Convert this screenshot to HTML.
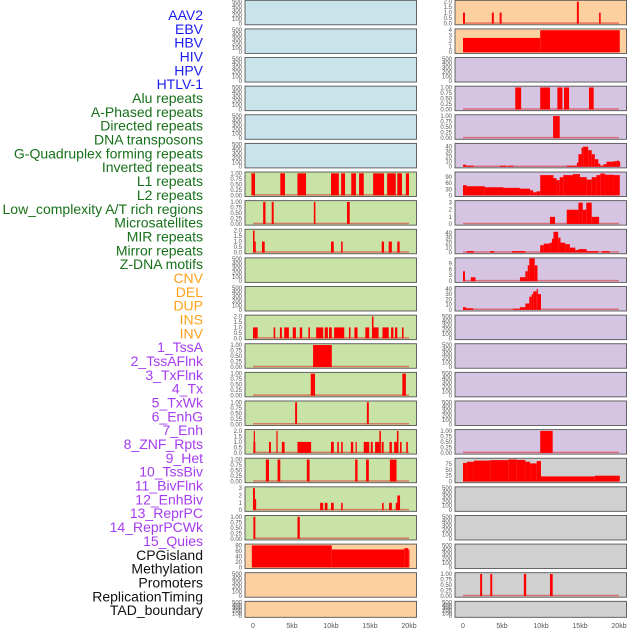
<!DOCTYPE html>
<html><head><meta charset="utf-8"><style>
html,body{margin:0;padding:0;background:#fff;}
svg{display:block;font-family:"Liberation Sans",sans-serif;}
</style></head><body>
<svg id="chart" width="630" height="630" viewBox="0 0 630 630" xmlns="http://www.w3.org/2000/svg">
<g id="labels"></g>
<g id="panels"></g>
<g id="xaxes"></g>
</svg>
<script>
const labelNames = ["AAV2","EBV","HBV","HIV","HPV","HTLV-1","Alu repeats","A-Phased repeats","Directed repeats","DNA transposons","G-Quadruplex forming repeats","Inverted repeats","L1 repeats","L2 repeats","Low_complexity A/T rich regions","Microsatellites","MIR repeats","Mirror repeats","Z-DNA motifs","CNV","DEL","DUP","INS","INV","1_TssA","2_TssAFlnk","3_TxFlnk","4_Tx","5_TxWk","6_EnhG","7_Enh","8_ZNF_Rpts","9_Het","10_TssBiv","11_BivFlnk","12_EnhBiv","13_ReprPC","14_ReprPCWk","15_Quies","CPGisland","Methylation","Promoters","ReplicationTiming","TAD_boundary"];
const labelGroups = [0,0,0,0,0,0,1,1,1,1,1,1,1,1,1,1,1,1,1,2,2,2,2,2,3,3,3,3,3,3,3,3,3,3,3,3,3,3,3,4,4,4,4,4];
const groupColors = ["#1c1cf0","#17701a","#ffa21a","#a63cf0","#111111"];

const xTickValues = [0,5,10,15,20];
const xTickLabels = ["0","5kb","10kb","15kb","20kb"];

const leftBg = ["b","b","b","b","b","b","g","g","g","g","g","g","g","g","g","g","g","g","g","o","o","o"];
const rightBg = ["o","o","p","p","p","p","p","p","p","p","p","p","p","p","p","p","g2","g2","g2","g2","g2","g2"];

const T500 = [0,100,200,300,400,500];
const T1 = [0,0.25,0.5,0.75,1];
const T2 = [0,0.5,1,1.5,2];

// left column: ticks, ymax, segments [startKb,endKb,value]
const leftTicks = [T500,T500,T500,T500,T500,T500,T1,T1,T2,T500,T500,T2,T1,T1,T1,T2,T1,[0,1,2,3],T1,[0,20,40,60,80],T500,T500];
const leftMax = [500,500,500,500,500,500,1,1,2,500,500,2,1,1,1,2,1,3,1,80,500,500];
const leftSegs = [
 [],[],[],[],[],[],
 [[-0.2,0.26,1],[3.5,4.1,1],[5.7,6.8,1],[10,11,1],[11.3,11.8,1],[12.6,13.2,1],[13.6,14.2,1],[15.4,16.8,1],[17.2,18.3,1],[18.5,19.1,1],[19.6,20,1]],
 [[1.3,1.6,1],[2.4,2.65,1],[7.8,8.0,1],[12.05,12.4,1]],
 [[0,0.2,2],[0.2,0.3,1],[1.15,1.5,1],[10,10.35,1],[11.3,11.5,1],[16.5,16.8,1],[17.4,17.8,1],[18.5,18.8,1]],
 [],[],
 [[0,0.6,1],[2.65,2.85,1],[3.45,3.7,1],[4,4.6,1],[5.1,5.5,1],[6,6.3,1],[7.1,7.3,1],[8.1,9.0,1],[9.2,9.6,1],[9.75,10.1,1],[10.4,11.7,1],[12.3,12.5,1],[13.0,13.4,1],[14.4,14.9,1],[15.25,15.45,2],[15.45,16.1,1],[16.6,17.4,1],[17.7,18.0,1],[18.2,18.5,1],[19.1,19.3,1]],
 [[7.7,10.1,1]],
 [[7.4,7.95,1],[19.15,19.6,1]],
 [[5.4,5.65,1],[14.6,14.85,1]],
 [[0.05,0.3,1],[0.1,0.2,2],[2.05,2.3,1],[3.0,3.15,2],[3.7,4.05,1],[5.7,7.45,1],[10.0,10.35,1],[10.8,11.0,1],[11.3,11.5,1],[12.55,12.85,1],[13.15,13.3,1],[14.2,14.9,1],[15.1,15.35,1],[15.65,16.2,1],[16.2,16.4,2],[16.5,16.75,1],[17.5,17.8,1],[18.1,18.5,1],[18.45,18.65,2],[18.85,19.05,1],[19.65,19.85,1]],
 [[1.65,2.05,1],[3.15,3.5,1],[6.9,7.25,1],[13.1,13.4,1],[14.5,14.85,1],[17.55,18.4,1]],
 [[0,0.25,3],[0.25,0.35,1.5],[8.6,9.0,1],[9.2,9.55,1],[10,10.35,1],[11.3,11.5,1],[16.55,16.75,1],[17.45,17.8,1],[18.3,18.55,1],[18.5,18.85,2]],
 [[0.05,0.3,1],[5.7,6.0,1]],
 [[-0.15,10.1,80],[10.1,19.4,65],[19.4,19.9,70],[19.9,20,65]],
 [],[]
];

const rightTicks = [T2,[0,1,2,3,4],T500,T1,T1,[0,10,20,30,40],[0,30,60,90],[0,1,2,3],[0,10,20,30,40],[0,3,6,9],[0,10,20,30,40],T500,T500,T500,T500,T1,[0,25,50,75],T500,T500,T500,T1,T500];
const rightMax = [2,4,500,1,1,44,109,3.1,44.5,11.1,42,500,500,500,500,1,94.6,500,500,500,1,500];
const rightSegs = [
 [[0,0.25,1],[3.7,3.95,1],[4.7,4.95,1],[14.6,14.85,2],[17.45,17.65,1]],
 [[0,9.9,2.6],[9.9,20.1,4]],
 [],
 [[6.7,7.45,1],[9.9,11.15,1],[12.1,12.75,1],[12.95,13.6,1],[16.15,16.75,1]],
 [[11.55,12.4,1]],
 [[0,0.38,4],[0.38,1.4,2],[4.75,5.6,2],[5.8,6.45,2],[13.3,14.6,2],[14.6,14.8,8],[14.8,15.2,25],[15.2,15.4,38],[15.4,16.05,40],[16.05,16.5,33],[16.5,16.9,25],[16.9,17.35,15],[17.35,17.6,6],[17.6,18.0,2],[18.0,18.4,5],[18.4,19.3,10],[19.3,19.7,11],[19.7,20.0,12],[20.0,20.1,10]],
 [[0,0.47,50],[0.47,2.8,45],[2.8,5.2,40],[5.2,7.3,37],[7.3,8.6,33],[8.6,9.0,25],[9.0,9.45,15],[9.45,9.9,20],[9.9,11.6,100],[11.6,12.0,85],[12.0,12.4,75],[12.4,12.85,90],[12.85,14.1,100],[14.1,15.0,105],[15.0,15.85,90],[15.85,16.5,78],[16.5,17.1,90],[17.1,17.6,100],[17.6,18.2,108],[18.2,19.3,102],[19.3,20.1,100]],
 [[11.15,11.8,1],[13.3,14.8,2],[14.8,15.35,3],[15.35,15.8,2],[15.8,16.5,3],[16.5,17.45,1]],
 [[0.5,1.4,3],[3.5,4.0,3],[6.3,8.0,3],[9.9,10.35,15],[10.35,11.1,18],[11.1,11.4,20],[11.4,11.6,28],[11.6,12.2,42],[12.2,12.5,30],[12.5,13.1,20],[13.1,13.7,17],[13.7,14.4,10],[14.4,14.8,5],[14.8,15.85,7],[15.85,17.35,3],[17.8,18.8,3]],
 [[0,0.25,5],[1.0,1.6,2],[7.3,8.0,2],[8.0,8.3,5],[8.3,8.5,8],[8.5,9.2,12],[9.2,9.55,8]],
 [[0,0.4,5],[0.4,1.3,3],[6.4,7.3,2],[7.3,8.0,5],[8.0,8.5,12],[8.5,8.8,25],[8.8,9.0,30],[9.0,9.45,35],[9.45,9.6,40],[9.6,10.0,30]],
 [],[],[],[],
 [[9.9,11.5,1]],
 [[0,0.5,80],[0.5,1.4,85],[1.4,3.5,90],[3.5,5.8,92],[5.8,6.9,95],[6.9,8.0,93],[8.0,8.6,85],[8.6,9.45,78],[9.45,10.0,88],[10.0,16.9,22],[16.9,20.1,25]],
 [],[],[],
 [[2.2,2.45,1],[3.5,3.75,1],[7.8,8.1,1],[11.15,11.5,1]],
 []
];

const NS = "http://www.w3.org/2000/svg";
const bgColors = {b:"#c9e3ea",g:"#c9e2a5",o:"#ffd09f",p:"#d5c5e2",g2:"#d0d0d0"};
function mk(tag, attrs, parent){const e=document.createElementNS(NS,tag);for(const k in attrs)e.setAttribute(k,attrs[k]);parent.appendChild(e);return e;}

const labelsG = document.getElementById("labels");
labelNames.forEach((name,i)=>{
  const t = mk("text",{x:203,y:20+i*13.84,"text-anchor":"end","font-size":"14",fill:groupColors[labelGroups[i]]},labelsG);
  t.textContent = name;
  
  
});

const panelsG = document.getElementById("panels");
const cols = [{x0:245,zero:253,bg:leftBg,ticks:leftTicks,max:leftMax,segs:leftSegs,name:"left"},
              {x0:455,zero:463,bg:rightBg,ticks:rightTicks,max:rightMax,segs:rightSegs,name:"right"}];
const PW = 171.5, KB = 7.8;
cols.forEach(c=>{
  const xs = kb => c.zero + kb*KB;
  for(let r=0;r<22;r++){
    const top = 0.3 + r*28.62;
    const h = r===21 ? 16 : 24.5;
    const g = mk("g",{},panelsG);
    
    
    const bot = top + h - 1.2;
    const ys = v => bot - (v/c.max[r])*(h-2.5);
    mk("rect",{x:c.x0,y:top,width:PW,height:h,fill:bgColors[c.bg[r]]},g);
    const segs = c.segs[r];
    if(segs.length){
      mk("line",{x1:xs(0),x2:xs(20),y1:bot-0.5,y2:bot-0.5,stroke:"rgba(220,40,40,0.55)","stroke-width":1.5},g);
    }
    segs.forEach(s=>{
      const y = Math.max(top+0.5, ys(s[2]));
      const bar = mk("rect",{x:xs(s[0]),y:y,width:Math.max(1.2,xs(s[1])-xs(s[0])),height:bot-y,fill:"#ff0000"},g);
      
      
    });
    mk("rect",{x:c.x0,y:top,width:PW,height:h,fill:"none",stroke:"#555","stroke-width":0.9},g);
    c.ticks[r].forEach(v=>{
      const y = ys(v);
      if(y < top-3) return;
      const lab = Number.isInteger(v) ? String(v) : v.toFixed(c.max[r]<=1.01?2:1);
      const dec = c.ticks[r].some(t=>!Number.isInteger(t));
      const txt = dec ? (c.ticks[r]===T1||c.max[r]<=1.01 ? v.toFixed(2) : v.toFixed(1)) : lab;
      const t = mk("text",{x:c.x0-3,y:y+2,"text-anchor":"end","font-size":"6",fill:"#555"},g);
      t.textContent = txt;
      
      
    });
  }
  const ax = document.getElementById("xaxes");
  xTickValues.forEach((v,i)=>{
    const t = mk("text",{x:xs(v),y:628,"text-anchor":"middle","font-size":"7",fill:"#555"},ax);
    t.textContent = xTickLabels[i];
    
    
  });
});
</script>
</body></html>
